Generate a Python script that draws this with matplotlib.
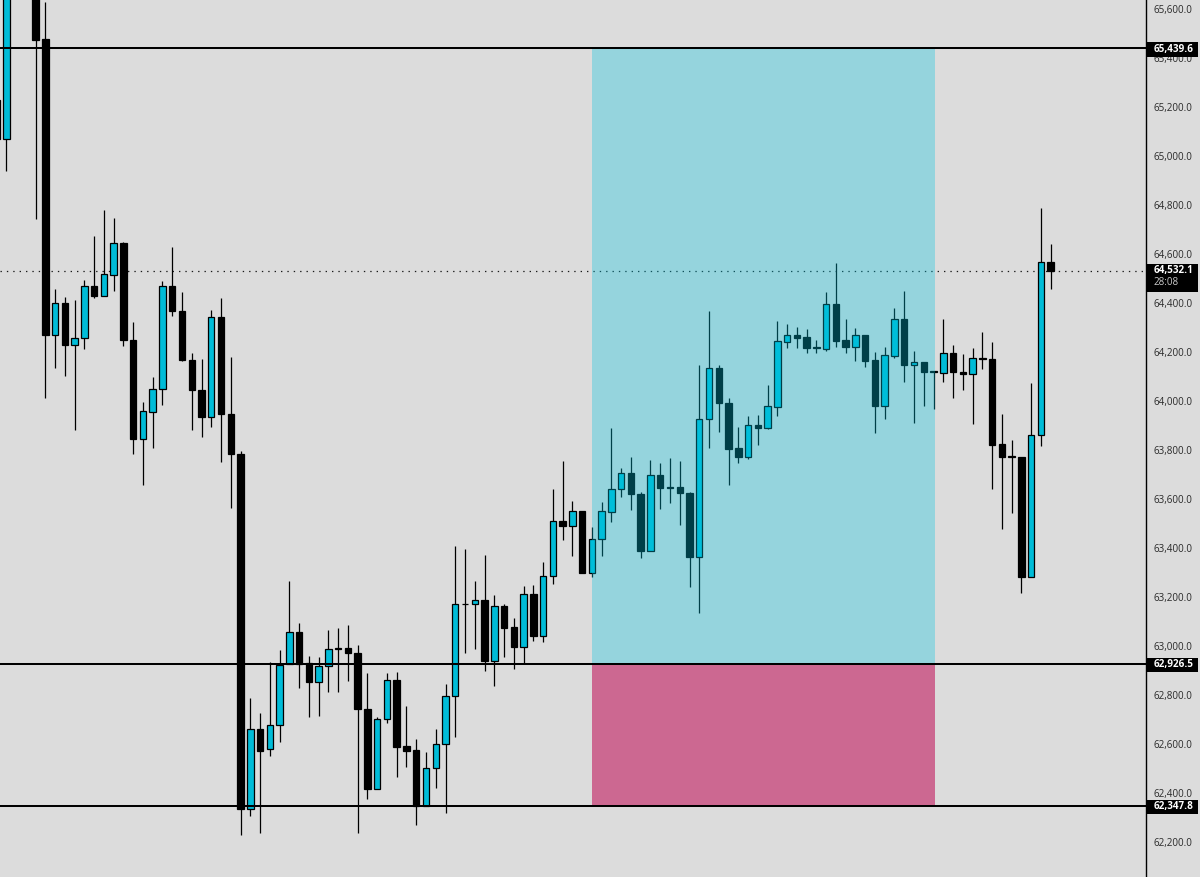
import numpy as np
import matplotlib
matplotlib.use('Agg')
import matplotlib.pyplot as plt
from matplotlib.patches import Rectangle
from matplotlib.transforms import blended_transform_factory

# candle data, first bar starts just left of the frame
opens = [65229, 65070, 65750, 65800, 65719, 65476, 64268, 64400, 64227, 64259,
         64468, 64427, 64515, 64647, 64251, 63845, 63957, 64051, 64468, 64368,
         64166, 64047, 63933, 64343, 63949, 63784, 62335, 62661, 62578, 62678,
         62927, 63059, 62931, 62851, 62919, 62992, 62991, 62970, 62742, 62417,
         62701, 62862, 62591, 62575, 62347, 62501, 62599, 62795, 63172, 63170,
         63187, 62939, 63164, 63077, 62997, 63211, 63042, 63285, 63509, 63491,
         63550, 63299, 63436, 63548, 63640, 63705, 63622, 63387, 63697, 63650,
         63650, 63626, 63365, 63926, 64135, 63993, 63807, 63773, 63902, 63891,
         63977, 64242, 64268, 64260, 64219, 64214, 64396, 64249, 64222, 64268,
         64168, 63981, 64185, 64336, 64146, 64158, 64121, 64113, 64195, 64120,
         64109, 64175, 64172, 63824, 63775, 63770, 63283, 63862, 64569]
closes = [65070, 65678, 65800, 65720, 65474, 64268, 64400, 64227, 64259, 64468,
          64427, 64517, 64647, 64249, 63843, 63959, 64051, 64468, 64366, 64166,
          64045, 63933, 64341, 63949, 63782, 62335, 62661, 62572, 62678, 62923,
          63059, 62927, 62851, 62919, 62987, 62988, 62970, 62742, 62417, 62702,
          62863, 62589, 62573, 62347, 62501, 62599, 62795, 63172, 63170, 63187,
          62939, 63164, 63075, 62997, 63211, 63042, 63285, 63509, 63491, 63550,
          63299, 63436, 63550, 63641, 63705, 63619, 63387, 63697, 63644, 63645,
          63623, 63365, 63926, 64135, 63993, 63804, 63773, 63902, 63891, 63979,
          64244, 64268, 64259, 64218, 64217, 64396, 64246, 64222, 64268, 64165,
          63981, 64187, 64336, 64146, 64158, 64119, 64119, 64195, 64117, 64109,
          64175, 64170, 63821, 63773, 63772, 63283, 63862, 64569, 64532.1]
highs = [65300, 65700, 65850, 65850, 65760, 65629, 64457, 64425, 64413, 64494,
         64674, 64780, 64747, 64649, 64323, 63996, 64098, 64490, 64629, 64445,
         64196, 64172, 64372, 64421, 64180, 63796, 62788, 62727, 62935, 62984,
         63266, 63095, 62959, 62955, 63066, 63074, 63086, 63004, 62889, 62709,
         62889, 62895, 62755, 62619, 62566, 62663, 62844, 63408, 63397, 63266,
         63373, 63208, 63172, 63113, 63245, 63248, 63342, 63642, 63754, 63591,
         63550, 63485, 63587, 63890, 63726, 63770, 63628, 63758, 63746, 63766,
         63755, 63628, 64146, 64368, 64146, 64011, 63895, 63939, 63943, 64064,
         64326, 64316, 64301, 64293, 64249, 64445, 64565, 64336, 64297, 64270,
         64200, 64221, 64379, 64449, 64204, 64159, 64123, 64334, 64229, 64191,
         64215, 64281, 64240, 63947, 63841, 63772, 64073, 64787, 64641]
lows = [65070, 64939, 65720, 65700, 64743, 64013, 64135, 64102, 63882, 64213,
        64421, 64427, 64449, 64225, 63784, 63659, 63808, 63984, 64347, 64164,
        63882, 63853, 63894, 63753, 63564, 62230, 62306, 62237, 62551, 62608,
        62927, 62829, 62709, 62716, 62814, 62814, 62856, 62236, 62376, 62417,
        62687, 62464, 62504, 62271, 62347, 62419, 62317, 62628, 62973, 62988,
        62898, 62837, 62957, 62905, 62927, 63022, 63015, 63252, 63434, 63366,
        63299, 63283, 63368, 63508, 63607, 63555, 63358, 63387, 63561, 63583,
        63494, 63242, 63134, 63808, 63873, 63659, 63748, 63765, 63821, 63885,
        63940, 64218, 64218, 64197, 64197, 64206, 64222, 64197, 64165, 64140,
        63868, 63928, 64175, 64077, 63912, 63981, 63968, 64079, 64014, 64045,
        63905, 64131, 63640, 63477, 63544, 63218, 63283, 63817, 64457]

tick_values = [62200, 62400, 62600, 62800, 63000, 63200, 63400, 63600, 63800,
               64000, 64200, 64400, 64600, 64800, 65000, 65200, 65400, 65600]
level_prices = [65439.6, 62926.5, 62347.8]
last_price = 64532.1
countdown = '28:08'

BG = '#dcdcdc'
UP = '#00bcd8'
DOWN = '#000000'

plt.rcParams['font.family'] = ['Open Sans', 'DejaVu Sans']

fig = plt.figure(figsize=(12, 8.77), dpi=100, facecolor=BG)
ax = fig.add_axes([0, 0, 1146 / 1200, 1], facecolor=BG)

x = np.arange(len(opens)) - 1
opens = np.array(opens)
closes = np.array(closes)
highs = np.array(highs)
lows = np.array(lows)
up = closes >= opens
colors = [UP if u else DOWN for u in up]

ax.set_xlim(-0.645, 116.77)
ax.set_ylim(62057, 65637)

# dotted last price line sits behind the candles
ax.axhline(last_price, color='#1a1a1a', lw=0.9, ls=(0, (1.1, 4)), zorder=1)

ax.vlines(x, lows, highs, color='black', lw=0.9, zorder=2)
ax.bar(x, closes - opens, bottom=opens, width=0.66, color=colors,
       edgecolor='black', linewidth=0.9, zorder=2.5)

# trade box, the profit side is see through and tints the candles
ax.add_patch(Rectangle((60, level_prices[1]), 35.15, level_prices[0] - level_prices[1],
                       facecolor=(0, 197 / 255, 225 / 255, 0.32), edgecolor='none', zorder=3))
ax.add_patch(Rectangle((60, level_prices[2]), 35.15, level_prices[1] - level_prices[2],
                       facecolor='#cc6891', edgecolor='none', zorder=3))

for p in level_prices:
    ax.axhline(p, color='black', lw=1.45, zorder=4)

for s in ['top', 'left', 'bottom']:
    ax.spines[s].set_visible(False)
ax.spines['right'].set_color('black')
ax.spines['right'].set_linewidth(1.0)

ax.set_xticks([])
ax.yaxis.tick_right()
ax.set_yticks(tick_values)
ax.set_yticklabels(['{:,.1f}'.format(v) for v in tick_values])
ax.tick_params(axis='y', length=0, pad=5.6, labelsize=7.1, labelcolor='#2a2a2a')

# price tags in the right hand scale
trans = blended_transform_factory(ax.transAxes, ax.transData)
tag_x = 1.0005
tag_w = 51 / 1146
for p in level_prices:
    ax.add_patch(Rectangle((tag_x, p - 34), tag_w, 59, transform=trans, facecolor='black',
                           edgecolor='none', clip_on=False, zorder=5))
    ax.text(1154 / 1146, p - 4, '{:,.1f}'.format(p), transform=trans, color='white', fontsize=7.1,
            fontweight='bold', va='center', ha='left', clip_on=False, zorder=6)

ax.add_patch(Rectangle((tag_x, last_price - 87), tag_w, 114, transform=trans, facecolor='black',
                       edgecolor='none', clip_on=False, zorder=5))
ax.text(1154 / 1146, last_price, '{:,.1f}'.format(last_price), transform=trans, color='white',
        fontsize=7.1, fontweight='bold', va='center', ha='left', clip_on=False, zorder=6)
ax.text(1154 / 1146, last_price - 47, countdown, transform=trans, color='#c8c8c8',
        fontsize=7.1, va='center', ha='left', clip_on=False, zorder=6)

fig.savefig('out.png', dpi=100, facecolor=BG)
